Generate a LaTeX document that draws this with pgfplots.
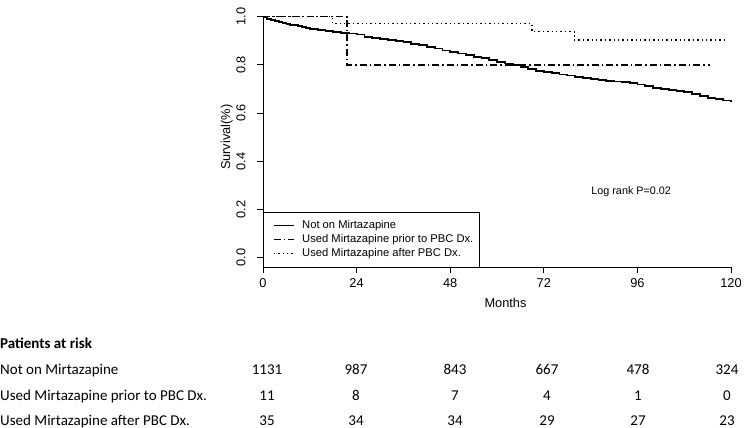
\documentclass[border=0pt]{standalone}
\usepackage{pgfplots}
\pgfplotsset{compat=1.18}
\usepackage{fontspec}
\setmainfont{Liberation Sans}
\newfontfamily\tablefont{Carlito}

\pgfplotstableread{
t S
0 1.000
1 0.992
2 0.986
3 0.981
4 0.977
5 0.973
6 0.970
7 0.967
8 0.964
9 0.960
10 0.956
11 0.953
12 0.950
14 0.946
16 0.942
18 0.938
20 0.934
22 0.930
24 0.926
26 0.917
28 0.911
30 0.906
32 0.903
34 0.899
36 0.894
38 0.887
40 0.881
42 0.875
44 0.868
46 0.860
48 0.854
50 0.847
52 0.840
54 0.833
56 0.828
58 0.821
60 0.813
62 0.806
64 0.798
66 0.791
68 0.784
70 0.776
72 0.770
74 0.765
76 0.760
78 0.756
80 0.751
82 0.747
84 0.742
86 0.737
88 0.734
90 0.731
92 0.728
94 0.725
96 0.719
98 0.711
100 0.705
102 0.699
104 0.695
106 0.691
108 0.686
110 0.679
112 0.671
114 0.663
116 0.657
118 0.652
120 0.646
}\notonmirt

\pgfplotstableread{
t S
0 1.000
21.5 0.800
114.5 0.800
}\priormirt

\pgfplotstableread{
t S
0 1.000
17.8 0.971
69.0 0.938
79.8 0.903
119.2 0.903
}\aftermirt

\begin{document}
\begin{tikzpicture}
\useasboundingbox (0,0) rectangle (750bp,-428bp);
\begin{axis}[
  at={(263bp,-267.3bp)}, anchor=south west,
  scale only axis, width=468bp, height=250.6bp,
  xmin=0, xmax=120, ymin=-0.04, ymax=1,
  axis x line=bottom, axis y line=left,
  axis line style={-, line width=0.9bp},
  xtick={0,24,48,72,96,120},
  ytick={0,0.2,0.4,0.6,0.8,1},
  yticklabels={0.0,0.2,0.4,0.6,0.8,1.0},
  tick align=outside, major tick length=6bp,
  tick style={line width=0.9bp, black},
  /pgf/number format/assume math mode=true,
  tick label style={font=\fontsize{12.8bp}{15bp}\selectfont},
  xticklabel style={yshift=-1.5bp},
  yticklabel style={rotate=90, anchor=south, yshift=8bp},
  xlabel={Months},
  ylabel={Survival(\%)},
  label style={font=\fontsize{12.8bp}{15bp}\selectfont},
  xlabel style={at={(axis description cs:0.5182,0)}, anchor=center, yshift=-35.7bp},
  ylabel style={at={(axis description cs:0,0.519)}, anchor=center, yshift=36.3bp},
  clip=false,
  legend style={at={(axis cs:0,-0.04)}, anchor=south west, draw=black, line width=0.8bp,
    inner xsep=10bp, inner ysep=6.6bp, row sep=0pt, column sep=5bp,
    font=\fontsize{11.2bp}{13bp}\selectfont,
    nodes={text height=8.3bp, text depth=2.5bp, inner ysep=1.5bp, inner xsep=3pt}},
  legend cell align=left,
  legend image code/.code={\draw[#1, line width=0.8bp] (0bp,0bp) -- (20bp,0bp);},
]
\addplot[const plot, black, line width=1.8bp] table[x=t, y=S] {\notonmirt};
\addlegendentry{\makebox[164bp][l]{Not on Mirtazapine}}
\addplot[const plot, black, line width=1.3bp, dash pattern=on 7bp off 3bp on 1.5bp off 3bp] table[x=t, y=S] {\priormirt};
\addlegendentry{\makebox[164bp][l]{Used Mirtazapine prior to PBC Dx.}}
\addplot[const plot, black, line width=1.4bp, dash pattern=on 1.4bp off 3bp] table[x=t, y=S] {\aftermirt};
\addlegendentry{\makebox[164bp][l]{Used Mirtazapine after PBC Dx.}}
\node[anchor=west, font=\fontsize{10.8bp}{13bp}\selectfont] at (axis cs:83.3,0.272) {Log rank P=0.02};
\end{axis}

\begin{scope}[font=\tablefont\fontsize{15bp}{18bp}\selectfont]
\node[anchor=base west, inner sep=0pt, font=\tablefont\bfseries\fontsize{15bp}{18bp}\selectfont] at (0bp,-348bp) {Patients at risk};
\node[anchor=base west, inner sep=0pt] at (0bp,-374bp) {Not on Mirtazapine};
\node[anchor=base west, inner sep=0pt] at (0bp,-400bp) {Used Mirtazapine prior to PBC Dx.};
\node[anchor=base west, inner sep=0pt] at (0bp,-425bp) {Used Mirtazapine after PBC Dx.};
\foreach \x/\a/\b/\c in {267/1131/11/35, 356/987/8/34, 455/843/7/34, 547/667/4/29, 638/478/1/27, 727/324/0/23}{
  \node[anchor=base, inner sep=0pt] at (\x bp,-374bp) {\a};
  \node[anchor=base, inner sep=0pt] at (\x bp,-400bp) {\b};
  \node[anchor=base, inner sep=0pt] at (\x bp,-425bp) {\c};
}
\end{scope}
\end{tikzpicture}
\end{document}
